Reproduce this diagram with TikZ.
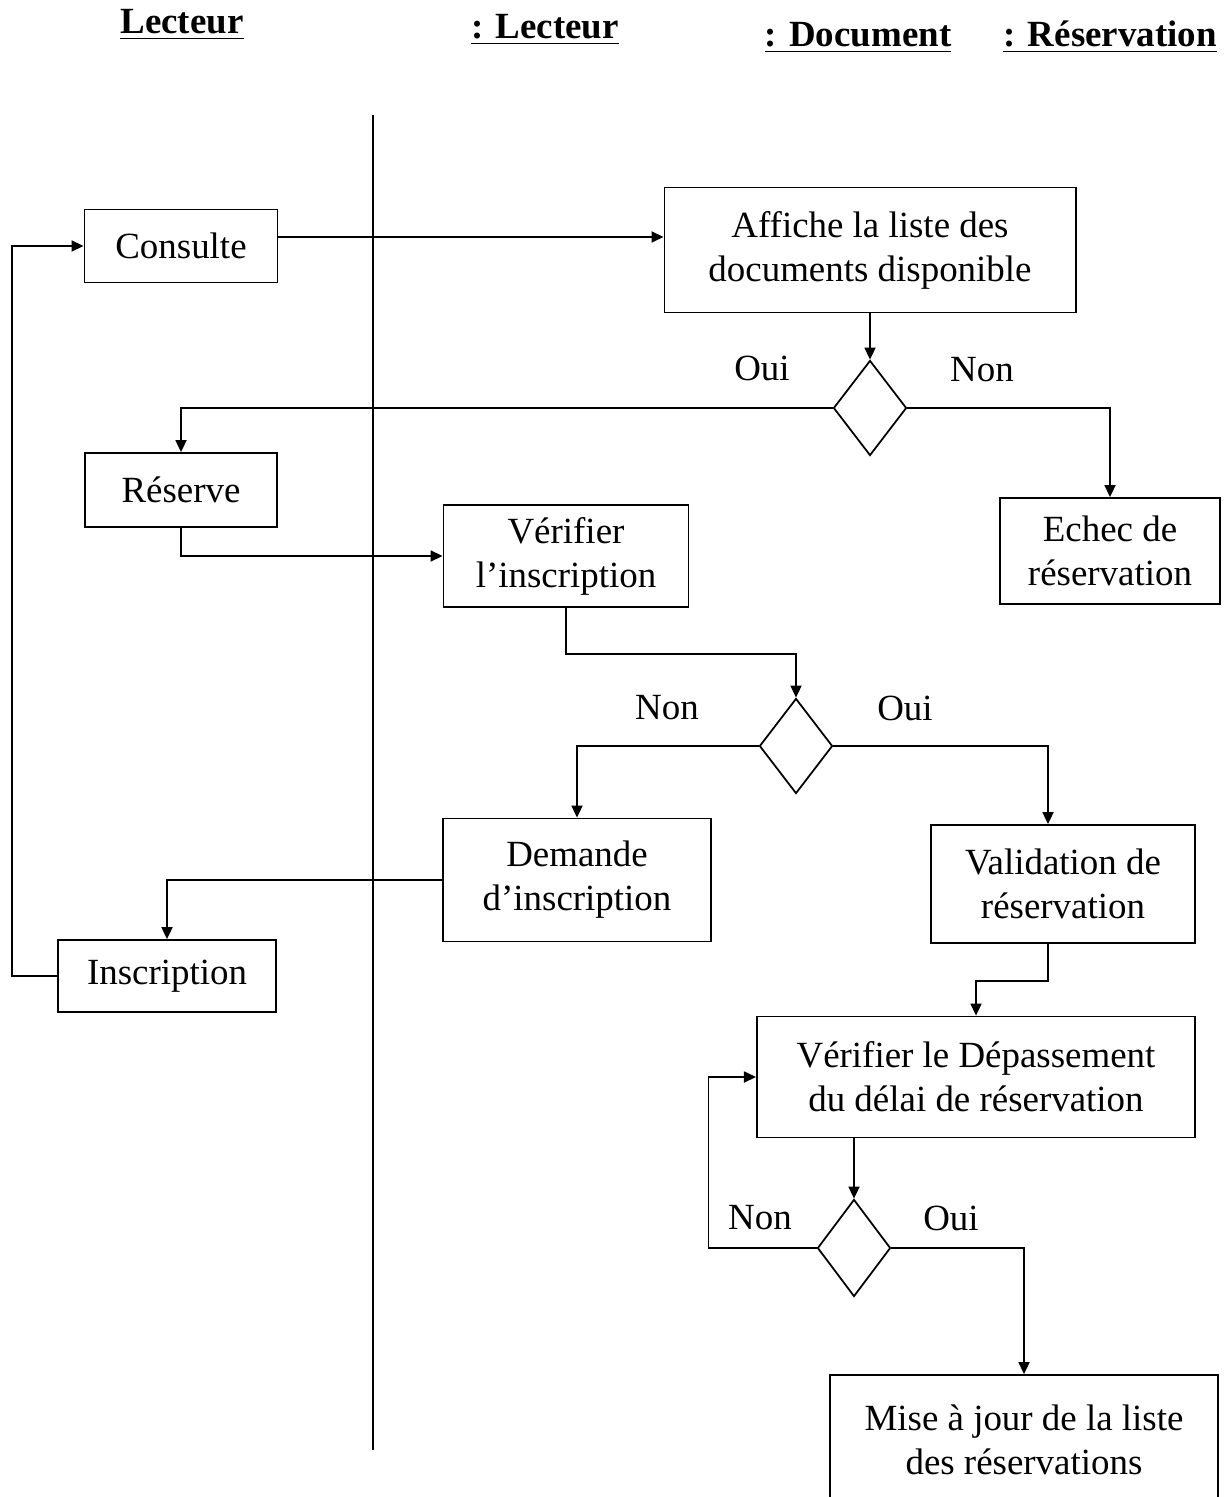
\documentclass[tikz,border=0pt]{standalone}
\usepackage{fontspec}
\setmainfont{Liberation Serif}
\usepackage{tikz}
\usetikzlibrary{arrows.meta}
\usetikzlibrary{shapes.geometric}

\begin{document}
\begin{tikzpicture}[x=0.01cm,y=-0.01cm,
        >={Triangle[length=1.2mm,width=1.1mm]},
        every path/.style={line width=0.5pt},
        actbox/.style={draw,align=center,inner sep=0pt,font=\fontsize{10.5}{12.5}\selectfont},
        choix/.style={draw,diamond,inner sep=0pt,minimum width=0.73cm,minimum height=0.95cm},
        lbl/.style={font=\fontsize{10.5}{12.5}\selectfont},
        entete/.style={font=\fontsize{10.5}{12.5}\selectfont\bfseries}]
        \useasboundingbox (0,0) rectangle (1228,1497);
        % couloirs
        \node[entete] (hlect) at (182,25) {\underline{Lecteur}};
        \node[entete] (hlect2) at (545,30) {\underline{: Lecteur}};
        \node[entete] (hdoc) at (858,38) {\underline{: Document}};
        \node[entete] (hres) at (1110,37) {\underline{: Réservation}};
        \draw (373,115) -- (373,1450);
        % activites
        \node[actbox,minimum width=1.93cm,minimum height=0.73cm] (con) at (181,246) {Consulte};
        \node[actbox,minimum width=4.11cm,minimum height=1.25cm] (aff) at (870,250) {Affiche la liste des\\documents disponible};
        \node[choix] (d1) at (870,408) {};
        \node[actbox,minimum width=1.92cm,minimum height=0.74cm] (res) at (181,490) {Réserve};
        \node[actbox,minimum width=2.20cm,minimum height=1.06cm] (ech) at (1110,551) {Echec de\\réservation};
        \node[actbox,minimum width=2.45cm,minimum height=1.02cm] (ver) at (566,556) {Vérifier\\l’inscription};
        \node[choix] (d2) at (796,746) {};
        \node[actbox,minimum width=2.68cm,minimum height=1.23cm] (dem) at (577,880) {Demande\\d’inscription};
        \node[actbox,minimum width=2.64cm,minimum height=1.18cm] (val) at (1063,884) {Validation de\\réservation};
        \node[actbox,minimum width=2.18cm,minimum height=0.72cm] (ins) at (167,976) {Inscription};
        \node[actbox,minimum width=4.38cm,minimum height=1.21cm] (vd) at (976,1077) {Vérifier le Dépassement\\du délai de réservation};
        \node[choix,minimum height=0.97cm] (d3) at (854,1248) {};
        \node[actbox,minimum width=3.88cm,minimum height=1.30cm] (mis) at (1024,1440) {Mise à jour de la liste\\des réservations};
        % gardes
        \node[lbl] (g1) at (762,368) {Oui};
        \node[lbl] (g2) at (982,370) {Non};
        \node[lbl] (g3) at (667,708) {Non};
        \node[lbl] (g4) at (905,708) {Oui};
        \node[lbl] (g5) at (760,1218) {Non};
        \node[lbl] (g6) at (951,1218) {Oui};
        % transitions
        \draw[->] ([yshift=0.09cm]con.east) -- ([yshift=0.09cm]con.east -| aff.west);
        \draw[->] (aff.south) -- (d1.north);
        \draw[->] (d1.west) -| (res.north);
        \draw[->] (d1.east) -| (ech.north);
        \draw[->] (res.south) |- (ver.west);
        \draw[->] (ver.south) -- ++(0,46) -| (d2.north);
        \draw[->] (d2.west) -| (dem.north);
        \draw[->] (d2.east) -| ([xshift=-0.15cm]val.north);
        \draw[->] (dem.west) -| (ins.north);
        \draw[->] (ins.west) -- ++(-45,0) |- (con.west);
        \draw[->] ([xshift=-0.15cm]val.south) -- ++(0,37) -| (vd.north);
        \draw[->] (d3.north |- vd.south) -- (d3.north);
        \draw[->] (d3.west) -- ++(-108,0) |- (vd.west);
        \draw[->] (d3.east) -| (mis.north);
    \end{tikzpicture}
\end{document}
